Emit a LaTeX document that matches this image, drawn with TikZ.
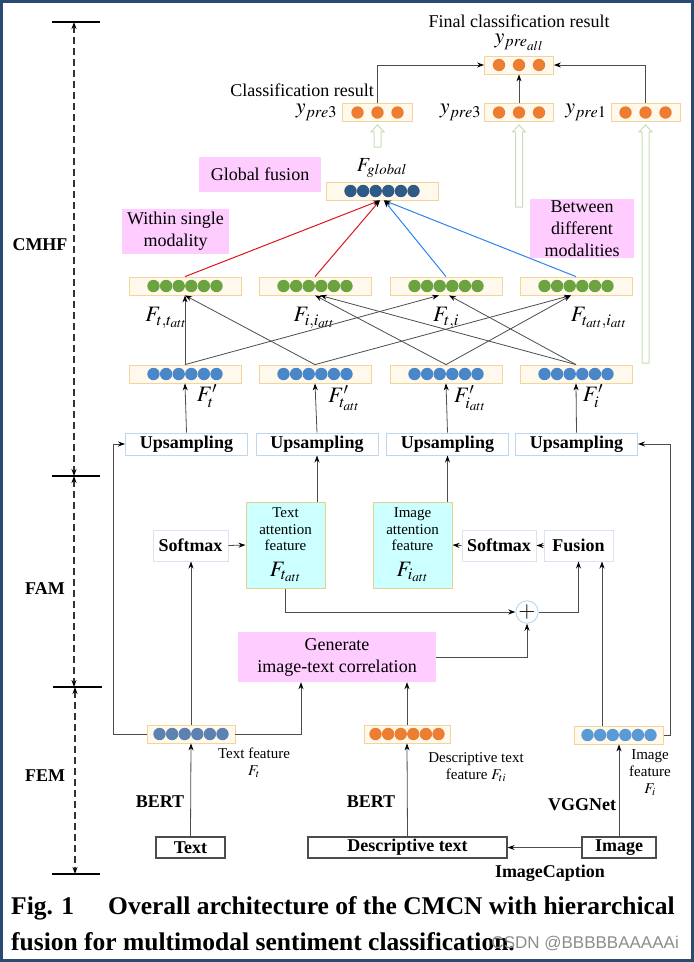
\documentclass[tikz,border=0pt]{standalone}
\usepackage{mathptmx}
\usepackage{fontspec}
\setmainfont{Liberation Serif}
\newfontfamily\wmfont{Liberation Sans}
\usetikzlibrary{arrows.meta,positioning,calc}

\definecolor{pinkfill}{HTML}{FFCCFF}
\definecolor{cyanfill}{HTML}{CCFFFF}
\definecolor{attline}{HTML}{E2D48C}
\definecolor{rowfill}{HTML}{FFF8EC}
\definecolor{rowline}{HTML}{F3D59A}
\definecolor{dotorange}{HTML}{ED7D31}
\definecolor{dotgreen}{HTML}{6BA33E}
\definecolor{dotblue}{HTML}{4A87C9}
\definecolor{dotsteel}{HTML}{5B82B0}
\definecolor{dotsky}{HTML}{5B9BD5}
\definecolor{dotnavy}{HTML}{2E5A86}
\definecolor{upline}{HTML}{BDD7EE}
\definecolor{smline}{HTML}{DAE3F3}
\definecolor{hollowgreen}{HTML}{C5E0B4}
\definecolor{redline}{HTML}{E0141E}
\definecolor{blueline}{HTML}{2A84F0}
\definecolor{framecol}{HTML}{2B4A6F}

% box with a row of dots: name, x, y, width, colour, number of dots
\newcommand{\dotrow}[6]{%
  \node[rowbox, minimum width=#4] (#1) at (#2,#3) {};
  \pgfmathsetmacro{\dotgap}{#6==3 ? 20 : 12.6}
  \foreach \k in {1,...,#6}
    \fill[#5] ($(#1.center)+({(\k-(#6+1)/2)*\dotgap},0)$) circle (6.2pt);
}
% open green arrow from a tail point up to a node
\newcommand{\hollowup}[2]{%
  \draw[hollowgreen, line width=1pt, fill=white] let \p1=(#1), \p2=(#2) in
    (\x2-3.5pt,\y1) -- (\x2-3.5pt,\y2-10pt) -- (\x2-6.5pt,\y2-10pt) -- (\x2,\y2-3pt)
    -- (\x2+6.5pt,\y2-10pt) -- (\x2+3.5pt,\y2-10pt) -- (\x2+3.5pt,\y1) -- cycle;
}

\begin{document}
\begin{tikzpicture}[x=1pt, y=-1pt, >={Stealth[length=7pt,width=5pt,color=black]},
   every node/.style={font=\fontsize{18}{20}\selectfont, inner sep=0pt},
   rowbox/.style={draw=rowline, fill=rowfill, line width=0.8pt, minimum height=18pt},
   pinkbox/.style={fill=pinkfill, align=center, font=\fontsize{18}{22}\selectfont},
   upbox/.style={draw=upline, line width=1pt, minimum width=122pt, minimum height=22pt, font=\fontsize{18}{20}\selectfont\bfseries},
   smbox/.style={draw=smline, line width=1pt, minimum height=31pt, font=\fontsize{18}{20}\selectfont\bfseries},
   attbox/.style={draw=attline, fill=cyanfill, line width=1pt, minimum width=79pt, minimum height=86pt, align=center, font=\fontsize{15}{16.5}\selectfont},
   inbox/.style={draw=black!70, line width=1.2pt, minimum height=21pt, font=\fontsize{18}{20}\selectfont\bfseries},
   boldlbl/.style={font=\fontsize{18}{20}\selectfont\bfseries},
   smalllbl/.style={align=center, font=\fontsize{15}{17}\selectfont},
   mathlbl/.style={font=\fontsize{22}{24}\selectfont},
   link/.style={draw=black!70, line width=0.8pt, ->},
   tick/.style={line width=1.5pt},
   axisline/.style={line width=1.2pt, black!80, dash pattern=on 7pt off 4pt, <->}]
   \useasboundingbox (0,0) rectangle (694,962);
   \draw[framecol, line width=3pt] (1.5,1.5) rectangle (692.5,960.5);

   % module axis
   \draw[tick] (52,22) -- (100,22);
   \draw[tick] (52,476) -- (100,476);
   \draw[tick] (53,687) -- (102,687);
   \draw[tick] (52,874) -- (100,874);
   \draw[axisline] (74,22) -- (74,476);
   \draw[axisline] (74,476) -- (74,687);
   \draw[axisline] (75,687) -- (75,874);
   \node[boldlbl] at (40,245) {CMHF};
   \node[boldlbl] at (45,589) {FAM};
   \node[boldlbl] at (45,776) {FEM};

   % FEM
   \node[inbox, minimum width=69pt] (text) at (190.5,847.5) {Text};
   \node[inbox, minimum width=199pt] (desc) at (407.5,847.5) {Descriptive text};
   \node[inbox, minimum width=74pt] (image) at (619,847.5) {Image};
   \dotrow{tfeat}{191}{734}{88}{dotsteel}{6}
   \dotrow{dfeat}{407}{734}{86}{dotorange}{6}
   \dotrow{ifeat}{619}{735}{89}{dotsky}{6}
   \node[smalllbl] at (254,763) {Text feature\\$F_t$};
   \node[smalllbl] at (476,767) {Descriptive text\\feature $F_{ti}$};
   \node[smalllbl] at (650,773) {Image\\feature\\$F_i$};
   \node[boldlbl] at (160,802) {BERT};
   \node[boldlbl] at (371,802) {BERT};
   \node[boldlbl] at (582,805) {VGGNet};
   \node[boldlbl] at (550,873) {ImageCaption};
   \draw[link] (text.north) -- (tfeat.south);
   \draw[link] (desc.north) -- (dfeat.south);
   \draw[link] (image.north) -- (ifeat.south);
   \draw[link] (image.west) -- (desc.east);

   % FAM
   \node[pinkbox, minimum width=198pt, minimum height=50pt] (gen) at (337,657) {Generate\\image-text correlation};
   \node[circle, draw=upline, line width=1pt, minimum size=20pt, font=\fontsize{22}{22}\selectfont] (plus) at (527,612) {$+$};
   \node[attbox] (tatt) at (285.5,545) {Text\\attention\\feature\\[9pt]{\fontsize{22}{22}\selectfont$F_{t_{att}}$}};
   \node[attbox] (iatt) at (412.5,545) {Image\\attention\\feature\\[9pt]{\fontsize{22}{22}\selectfont$F_{i_{att}}$}};
   \node[smbox, minimum width=75pt] (soft1) at (190.5,545.5) {Softmax};
   \node[smbox, minimum width=74pt] (soft2) at (499,545.5) {Softmax};
   \node[smbox, minimum width=69pt] (fusion) at (578.5,545.5) {Fusion};
   \draw[link] (tfeat.north) -- (tfeat.north |- soft1.south);
   \draw[link] (tfeat.east) -| ([xshift=-36pt]gen.south);
   \draw[link] (dfeat.north) -- (dfeat.north |- gen.south);
   \draw[link] ([xshift=-17pt]ifeat.north) -- ([xshift=-17pt]ifeat.north |- fusion.south);
   \draw[link] (gen.east) -| (plus.south);
   \draw[link] (tatt.south) |- (plus.west);
   \draw[link] (plus.east) -| (fusion.south);
   \draw[link] (soft1.east) -- (tatt.west);
   \draw[link] (fusion.west) -- (soft2.east);
   \draw[link] (soft2.west) -- (iatt.east);

   % CMHF
   \node[upbox] (up1) at (186.5,444) {Upsampling};
   \node[upbox] (up2) at (317,444) {Upsampling};
   \node[upbox] (up3) at (447.5,444) {Upsampling};
   \node[upbox] (up4) at (576.5,444) {Upsampling};
   \draw[link] (tfeat.west) -- ++(-33,0) |- (up1.west);
   \draw[link] (ifeat.east) -- ++(6.5,0) |- (up4.east);
   \draw[link] (up2.south |- tatt.north) -- (up2.south);
   \draw[link] (up3.south |- iatt.north) -- (up3.south);

   \dotrow{b1}{185}{374}{112}{dotblue}{6}
   \dotrow{b2}{315}{374}{112}{dotblue}{6}
   \dotrow{b3}{446}{374}{112}{dotblue}{6}
   \dotrow{b4}{576}{374}{112}{dotblue}{6}
   \node[mathlbl] at (207,396) {$F_t'$};
   \node[mathlbl] at (344,398) {$F'_{t_{att}}$};
   \node[mathlbl] at (470,398) {$F'_{i_{att}}$};
   \node[mathlbl] at (593,396) {$F_i'$};
   \draw[link] (up1.north) -- (b1.south);
   \draw[link] (up2.north) -- (b2.south);
   \draw[link] (up3.north) -- (b3.south);
   \draw[link] (up4.north) -- (b4.south);

   \dotrow{g1}{185}{286}{112}{dotgreen}{6}
   \dotrow{g2}{315}{286}{112}{dotgreen}{6}
   \dotrow{g3}{446}{286}{112}{dotgreen}{6}
   \dotrow{g4}{576}{286}{112}{dotgreen}{6}
   \node[mathlbl] at (166,318) {$F_{t,t_{att}}$};
   \node[mathlbl] at (314,318) {$F_{i,i_{att}}$};
   \node[mathlbl] at (446,318) {$F_{t,i}$};
   \node[mathlbl] at (599,318) {$F_{t_{att},i_{att}}$};
   \draw[link] (b1.north) -- (g1.south);
   \draw[link] (b2.north) -- (g1.south);
   \draw[link] (b1.north) -- ([xshift=-7pt]g3.south);
   \draw[link] (b4.north) -- ([xshift=3pt]g3.south);
   \draw[link] (b3.north) -- (g2.south);
   \draw[link] (b4.north) -- ([xshift=5pt]g2.south);
   \draw[link] (b2.north) -- ([xshift=-5pt]g4.south);
   \draw[link] (b3.north) -- ([xshift=-5pt]g4.south);

   \dotrow{glob}{382}{191}{112}{dotnavy}{6}
   \node[font=\fontsize{20}{22}\selectfont, above=4pt of glob] {$F_{global}$};
   \node[pinkbox, minimum width=122pt, minimum height=35pt] (gfus) at (260,174.5) {Global fusion};
   \node[pinkbox, minimum width=107pt, minimum height=45pt] (within) at (175.5,231.5) {Within single\\modality};
   \node[pinkbox, minimum width=104pt, minimum height=59pt] (between) at (582,228.5) {Between\\different\\modalities};
   \draw[redline, line width=1pt, ->] (g1.north) -- ([xshift=-2pt]glob.south);
   \draw[redline, line width=1pt, ->] (g2.north) -- ([xshift=-2pt]glob.south);
   \draw[blueline, line width=1pt, ->] (g3.north) -- ([xshift=2pt]glob.south);
   \draw[blueline, line width=1pt, ->] (g4.north) -- ([xshift=2pt]glob.south);

   % classification
   \dotrow{cls1}{377.5}{112.5}{70}{dotorange}{3}
   \dotrow{cls2}{519}{112.5}{69}{dotorange}{3}
   \dotrow{cls3}{645.5}{112.5}{69}{dotorange}{3}
   \dotrow{final}{519}{65}{69}{dotorange}{3}
   \node[mathlbl, left=5pt of cls1] {$y_{pre3}$};
   \node[mathlbl, left=3pt of cls2] {$y_{pre3}$};
   \node[mathlbl, left=4pt of cls3] {$y_{pre1}$};
   \node at (302,90) {Classification result};
   \node[mathlbl] at (519,42) {$y_{pre_{all}}$};
   \node at (519,21) {Final classification result};
   \draw[link] (cls1.north) |- (final.west);
   \draw[link] (cls3.north) |- (final.east);
   \draw[link] (cls2.north) -- (final.south);
   \coordinate (h1) at (378,147);
   \coordinate (h2) at (519,207);
   \coordinate (h3) at (646,363);
   \hollowup{h1}{cls1.south}
   \hollowup{h2}{cls2.south}
   \hollowup{h3}{cls3.south}

   % caption
   \node[anchor=west, font=\fontsize{25.5}{28}\selectfont\bfseries] at (11,908) {Fig. 1\hspace{34pt}Overall architecture of the CMCN with hierarchical};
   \node[anchor=west, font=\fontsize{25.5}{28}\selectfont\bfseries] at (11,942) {fusion for multimodal sentiment classification.};
   \node[anchor=east, text=black!45, font=\fontsize{17}{19}\selectfont\wmfont] at (679,944) {CSDN @BBBBBAAAAAi};
\end{tikzpicture}
\end{document}
